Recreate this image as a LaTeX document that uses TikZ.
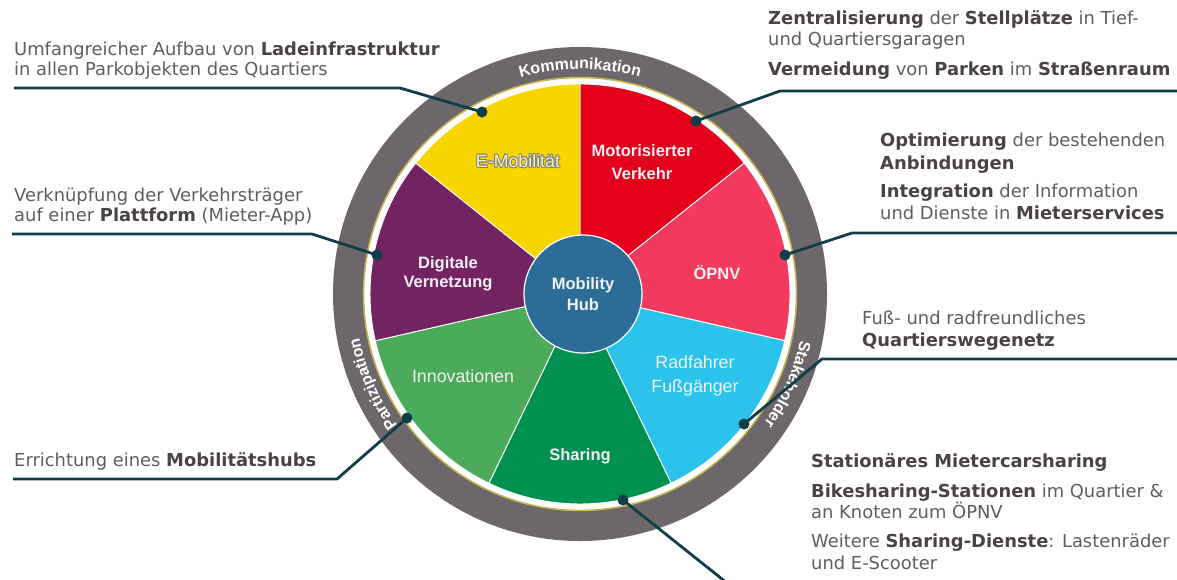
\documentclass[tikz,border=0pt]{standalone}
\usepackage{fontspec}
\setmainfont{DejaVu Sans}
\newfontfamily\labelfont{Liberation Sans}
\usetikzlibrary{decorations.text}

\definecolor{ringgray}{HTML}{6D676B}
\definecolor{ringline}{HTML}{CDB94A}
\definecolor{cyell}{HTML}{F9D500}
\definecolor{cred}{HTML}{E4001C}
\definecolor{cpink}{HTML}{F23A5F}
\definecolor{ccyan}{HTML}{2BC3EC}
\definecolor{cdgreen}{HTML}{009150}
\definecolor{clgreen}{HTML}{4CAB5A}
\definecolor{cpurple}{HTML}{732262}
\definecolor{hubblue}{HTML}{2C6D98}
\definecolor{leadcol}{HTML}{0F3D48}
\definecolor{notegray}{HTML}{5E5E5E}
\definecolor{notedark}{HTML}{4A4343}
\definecolor{labwhite}{HTML}{F2F2F2}
\definecolor{emofill}{HTML}{F4F0D2}
\definecolor{emoedge}{HTML}{7E7E7E}

\newcommand\kw[1]{{\bfseries\color{notedark}#1}}
\newcommand\ringfont{\labelfont\bfseries\fontsize{16}{16}\selectfont}

\begin{document}
\begin{tikzpicture}[x=1pt,y=-1pt,
  note/.style={anchor=base west, inner sep=0pt, text=notegray, font=\fontsize{17.9}{20}\selectfont},
  seclab/.style={align=center, inner sep=0pt, text=labwhite, font=\labelfont\bfseries\fontsize{16.5}{23}\selectfont},
  secreg/.style={align=center, inner sep=0pt, text=labwhite, font=\labelfont\fontsize{17.8}{24}\selectfont},
  leader/.style={draw=leadcol, line width=2.8pt, line join=round},
  dot/.style={circle, fill=leadcol, minimum size=11pt, inner sep=0pt},
  ringtext/.style={decorate, decoration={text along path, text align=center, text color=white, text={|\ringfont|#1}}}
]
\fill[white] (0,0) rectangle (1177,579);
\useasboundingbox (0,0) rectangle (1177,579);

\coordinate (c) at (580,294);

% outer ring
\fill[ringgray, even odd rule] (c) circle[radius=247] (c) circle[radius=216];
\draw[ringline, line width=1.4pt] (c) circle[radius=216.5];

% seven sectors
\foreach \s/\col in {270/cred, -38.57/cpink, 12.86/ccyan, 64.29/cdgreen, 115.71/clgreen, 167.14/cpurple, 218.57/cyell}
  \filldraw[fill=\col, draw=white, line width=0.9pt] (c) -- ([shift={(c)}]\s:210) arc[start angle=\s, delta angle=51.43, radius=210] -- cycle;

% hub
\node[circle, fill=hubblue, draw=white, line width=1.2pt, minimum size=118pt, inner sep=0pt, align=center, text=labwhite, font=\labelfont\bfseries\fontsize{16.5}{21}\selectfont] (hub) at (583,294) {Mobility\\Hub};

% sector labels
\node[seclab] (motor) at (642,162) {Motorisierter\\Verkehr};
\node[seclab] (oepnv) at (717,273) {ÖPNV};
\node[secreg] (rad) at (695,376) {Radfahrer\\Fußgänger};
\node[seclab] (share) at (580,456) {Sharing};
\node[secreg] (innov) at (463,376) {Innovationen};
\node[seclab, font=\labelfont\bfseries\fontsize{16.5}{19}\selectfont] (digi) at (448,274) {Digitale\\Vernetzung};
\foreach \dx/\dy [count=\i] in {0.9/0, -0.9/0, 0/0.9, 0/-0.9, 0.65/0.65, -0.65/0.65, 0.65/-0.65, -0.65/-0.65}
  \node[secreg, text=emoedge] (emoshade\i) at (518+\dx,161+\dy) {E-Mobilität};
\node[secreg, text=emofill] (emo) at (518,161) {E-Mobilität};

% ring captions
\path[shift={(c)}, ringtext=Kommunikation] (245:225) arc[start angle=245, end angle=295, radius=225];
\path[shift={(c)}, ringtext=Partizipation] (131.5:225) arc[start angle=131.5, end angle=181.5, radius=225];
\path[shift={(c)}, ringtext=Stakeholder] (-1.5:225) arc[start angle=-1.5, end angle=48.5, radius=225];

% annotations
\node[note] (a1) at (14,55) {Umfangreicher Aufbau von \kw{Ladeinfrastruktur}};
\node[note] (a2) at (14,75) {in allen Parkobjekten des Quartiers};

\node[note] (b1) at (768,24) {\kw{Zentralisierung} der \kw{Stellplätze} in Tief-};
\node[note] (b2) at (768,45) {und Quartiersgaragen};
\node[note] (b3) at (768,75) {\kw{Vermeidung} von \kw{Parken} im \kw{Straßenraum}};

\node[note] (c1) at (880,146) {\kw{Optimierung} der bestehenden};
\node[note] (c2) at (880,169) {\kw{Anbindungen}};
\node[note] (c3) at (880,197) {\kw{Integration} der Information};
\node[note] (c4) at (880,219) {und Dienste in \kw{Mieterservices}};

\node[note] (d1) at (14,201) {Verknüpfung der Verkehrsträger};
\node[note] (d2) at (14,221) {auf einer \kw{Plattform} (Mieter-App)};

\node[note] (e1) at (14,466) {Errichtung eines \kw{Mobilitätshubs}};

\node[note] (f1) at (862,324) {Fuß- und radfreundliches};
\node[note] (f2) at (862,346) {\kw{Quartierswegenetz}};

\node[note] (g1) at (811,467) {\kw{Stationäres Mietercarsharing}};
\node[note] (g2) at (811,497) {\kw{Bikesharing-Stationen} im Quartier \&};
\node[note] (g3) at (811,518) {an Knoten zum ÖPNV};
\node[note] (g4) at (811,547) {Weitere \kw{Sharing-Dienste}: Lastenräder};
\node[note] (g5) at (811,569) {und E-Scooter};

% leader dots
\node[dot] (dEmo) at (482,112) {};
\node[dot] (dMot) at (696,121) {};
\node[dot] (dOep) at (785,255) {};
\node[dot] (dDig) at (377,255) {};
\node[dot] (dInn) at (407,418) {};
\node[dot] (dRad) at (744,424) {};
\node[dot] (dSha) at (623,500) {};

% leader lines
\coordinate (sEmo) at (14,88);   \coordinate (kEmo) at (400,88);
\coordinate (sMot) at (1177,91); \coordinate (kMot) at (780,91);
\coordinate (sOep) at (1177,233);\coordinate (kOep) at (852,233);
\coordinate (sDig) at (12,234);  \coordinate (kDig) at (312,234);
\coordinate (sInn) at (13,479);  \coordinate (kInn) at (337,479);
\coordinate (sRad) at (1177,359);\coordinate (kRad) at (822,359);
\coordinate (eSha) at (727,583);

\draw[leader] (sEmo) -- (kEmo) -- (dEmo.center);
\draw[leader] (sMot) -- (kMot) -- (dMot.center);
\draw[leader] (sOep) -- (kOep) -- (dOep.center);
\draw[leader] (sDig) -- (kDig) -- (dDig.center);
\draw[leader] (sInn) -- (kInn) -- (dInn.center);
\draw[leader] (sRad) -- (kRad) -- (dRad.center);
\draw[leader] (dSha.center) -- (eSha);
\end{tikzpicture}
\end{document}
